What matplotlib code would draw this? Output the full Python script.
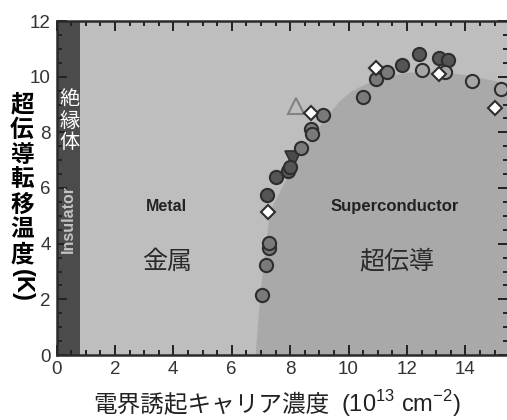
import numpy as np
import matplotlib
matplotlib.use('Agg')
import matplotlib.pyplot as plt
from matplotlib.ticker import MultipleLocator

plt.rcParams['font.family'] = ['Liberation Sans', 'Noto Sans CJK JP', 'DejaVu Sans']
plt.rcParams['mathtext.fontset'] = 'custom'
plt.rcParams['mathtext.rm'] = 'Liberation Sans'

# data
dome_x = [6.80, 6.95, 7.06, 7.26, 7.40, 7.66, 8.05, 8.46, 8.90, 9.37, 9.70, 10.05,
          10.40, 10.74, 11.42, 12.00, 12.60, 13.30, 14.00, 14.70, 15.50]
dome_t = [0.00, 1.98, 3.17, 4.85, 5.40, 5.93, 6.70, 7.37, 8.10, 8.74, 9.15, 9.46,
          9.66, 9.82, 10.04, 10.15, 10.20, 10.17, 10.07, 9.93, 9.75]
insulator_edge = 0.8

dark_x = [7.20, 7.51, 7.94, 8.00, 11.82, 12.42, 13.10, 13.42]
dark_t = [5.75, 6.41, 6.62, 6.74, 10.42, 10.82, 10.66, 10.60]
mid_x = [7.03, 7.18, 7.28, 7.28, 8.36, 8.71, 8.74, 9.12, 10.51, 10.93, 11.33]
mid_t = [2.16, 3.23, 3.83, 4.01, 7.45, 8.11, 7.94, 8.62, 9.28, 9.91, 10.16]
light_x = [12.51, 13.31, 14.24, 15.22]
light_t = [10.24, 10.18, 9.86, 9.55]
dia_x = [7.26, 8.71, 10.95, 13.10, 15.02]
dia_t = [5.15, 8.68, 10.30, 10.09, 8.89]
tri_open_x = [8.21]
tri_open_t = [8.95]
tri_dark_x = [8.11]
tri_dark_t = [7.03]

ylabel_chars = list('超伝導転移温度')
ins_chars = list('絶縁体')

fig = plt.figure(figsize=(5.07, 4.2), dpi=100)
ax = fig.add_axes([56.5/507, 65/420, (508-56.5)/507, (355-21)/420])
ax.set_facecolor('#bebebe')

ax.axvspan(0, insulator_edge, color='#4b4b4b', lw=0, zorder=1)
ax.fill_between(dome_x, 0, dome_t, color='#a9a9a9', lw=0, zorder=1)

edge = '#2e2e2e'
ax.plot(tri_dark_x, tri_dark_t, 'v', ms=11, mfc='#4a4a4a', mec=edge, mew=1.2, zorder=3)
ax.plot(tri_open_x, tri_open_t, '^', ms=11, mfc='none', mec='#828282', mew=1.5, zorder=3)
ax.plot(mid_x, mid_t, 'o', ms=9.5, mfc='#7a7a7a', mec=edge, mew=1.5, zorder=4)
ax.plot(dark_x, dark_t, 'o', ms=9.5, mfc='#555555', mec=edge, mew=1.5, zorder=4)
ax.plot(light_x, light_t, 'o', ms=9.5, mfc='#a6a6a6', mec=edge, mew=1.5, zorder=4)
ax.plot(dia_x, dia_t, 'D', ms=7, mfc='white', mec=edge, mew=1.5, zorder=5)

ax.set_xlim(0, (508-56.5)/29.2)
ax.set_ylim(0, 12)
ax.set_xticks(range(0, 16, 2))
ax.set_yticks(range(0, 13, 2))
ax.xaxis.set_minor_locator(MultipleLocator(0.5))
ax.yaxis.set_minor_locator(MultipleLocator(0.5))
ax.tick_params(which='both', direction='in', top=True, right=True, color='#222222', width=1.4)
ax.tick_params(which='major', length=7, labelsize=13.5, labelcolor='#333333', pad=4)
ax.tick_params(which='minor', length=3.5)
for s in ax.spines.values():
    s.set_linewidth(1.8)
    s.set_color('#2a2a2a')

# region labels
ax.text(3.75, 5.32, 'Metal', fontsize=11.5, weight='bold', color='#222222', ha='center', va='center', zorder=6)
ax.text(11.59, 5.32, 'Superconductor', fontsize=12, weight='bold', color='#222222', ha='center', va='center', zorder=6)
ax.text(3.79, 3.34, '金属', fontsize=18, color='#2a2a2a', ha='center', va='center', zorder=6)
ax.text(11.66, 3.34, '超伝導', fontsize=18, color='#2a2a2a', ha='center', va='center', zorder=6)
ax.text(0.4, 4.89, 'Insulator', fontsize=11.5, weight='bold', color='#c4c4c4', rotation=90,
        ha='center', va='center', zorder=6)
for i, ch in enumerate(ins_chars):
    ax.text(0.45, 9.16 - i*0.77, ch, fontsize=14.5, color='white', ha='center', va='center', zorder=6)

# vertical y label
for i, ch in enumerate(ylabel_chars):
    fig.text(22/507, 1 - (105 + i*25)/420, ch, fontsize=17, weight='bold', ha='center', va='center')
fig.text(22/507, 1 - 285/420, '(K)', fontsize=17, weight='bold', rotation=-90, ha='center', va='center')

fig.text(329/507, 1 - 406/420, '電界誘起キャリア濃度', fontsize=17,
         color='#222222', ha='right', va='center')
fig.text(341/507, 1 - 404/420, '(10$^{13}$ cm$^{-2}$)', fontsize=17,
         color='#222222', ha='left', va='center')

fig.savefig('out.png', dpi=100)
